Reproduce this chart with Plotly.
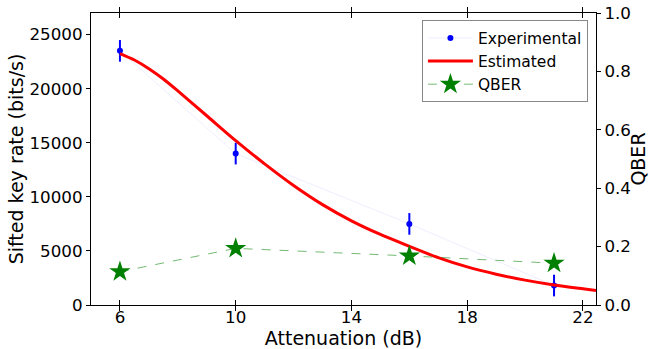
import plotly.graph_objects as go

# Experimental sifted key rate
exp_att = [6, 10, 16, 21]
exp_rate = [23500, 14000, 7500, 1800]
exp_err = [1000, 1000, 1000, 1000]

# Estimated curve
est_att = [6, 6.5, 7, 7.5, 8, 9, 10, 11, 12, 13, 14, 15, 16, 17, 18, 19, 20, 21, 22, 22.45]
est_rate = [23250, 22650, 21850, 20900, 19800, 17500, 15200, 13050, 11050, 9280, 7780, 6520, 5430, 4380, 3520, 2850, 2300, 1850, 1500, 1350]

# QBER
qber_att = [6, 10, 16, 21]
qber = [0.114, 0.194, 0.168, 0.143]

# Tick labels
x_ticks = [6, 10, 14, 18, 22]
y_ticks = [0, 5000, 10000, 15000, 20000, 25000]
y_ticktext = ["0", "5000", "10000", "15000", "20000", "25000"]
y2_ticks = [0, 0.2, 0.4, 0.6, 0.8, 1.0]
y2_ticktext = ["0.0", "0.2", "0.4", "0.6", "0.8", "1.0"]

FONT = "DejaVu Sans"

fig = go.Figure()

fig.add_trace(go.Scatter(
    x=exp_att, y=exp_rate, name="Experimental", mode="lines+markers",
    line=dict(color="rgba(0,0,255,0.07)", width=1),
    marker=dict(color="#0000ff", size=6),
    error_y=dict(type="data", array=exp_err, color="#0000ff", thickness=2, width=0),
))

fig.add_trace(go.Scatter(
    x=est_att, y=est_rate, name="Estimated", mode="lines",
    line=dict(color="#ff0000", width=3, shape="spline", smoothing=0.8),
))

fig.add_trace(go.Scatter(
    x=qber_att, y=qber, name="QBER", mode="lines+markers", yaxis="y2",
    line=dict(color="rgba(0,128,0,0.55)", width=1, dash="dash"),
    marker=dict(color="#008000", size=16, symbol="star", line=dict(width=0)),
))

fig.update_layout(
    width=649, height=349,
    margin=dict(l=91, r=53, t=13, b=44, autoexpand=False),
    paper_bgcolor="white", plot_bgcolor="white",
    font=dict(family=FONT, size=16, color="black"),
    showlegend=True,
    legend=dict(
        x=0.984, y=0.975, xanchor="right", yanchor="top",
        bgcolor="white", bordercolor="#888888", borderwidth=1,
        font=dict(family=FONT, size=15.5, color="black"),
        tracegroupgap=0, itemwidth=45,
    ),
    xaxis=dict(
        range=[5, 22.45], tickmode="array", tickvals=x_ticks,
        ticks="inside", ticklen=5, tickcolor="black",
        showline=True, linecolor="black", linewidth=1.2, mirror="allticks",
        showgrid=False, zeroline=False, ticklabelstandoff=-3,
        tickfont=dict(family=FONT, size=16.7),
        title=dict(text="Attenuation (dB)", font=dict(family=FONT, size=19), standoff=3),
    ),
    yaxis=dict(
        range=[0, 27000], tickmode="array", tickvals=y_ticks, ticktext=y_ticktext,
        ticks="outside", ticklen=4, tickcolor="black",
        showline=True, linecolor="black", linewidth=1.2,
        showgrid=False, zeroline=False,
        tickfont=dict(family=FONT, size=16.7),
        title=dict(text="Sifted key rate (bits/s)", font=dict(family=FONT, size=19), standoff=0),
    ),
    yaxis2=dict(
        range=[0, 1.0], overlaying="y", side="right",
        tickmode="array", tickvals=y2_ticks, ticktext=y2_ticktext,
        ticks="outside", ticklen=4, tickcolor="black",
        showline=True, linecolor="black", linewidth=1.2,
        showgrid=False, zeroline=False,
        tickfont=dict(family=FONT, size=16.7),
        title=dict(text="QBER", font=dict(family=FONT, size=19), standoff=6),
    ),
)

fig.write_html("out.html")
